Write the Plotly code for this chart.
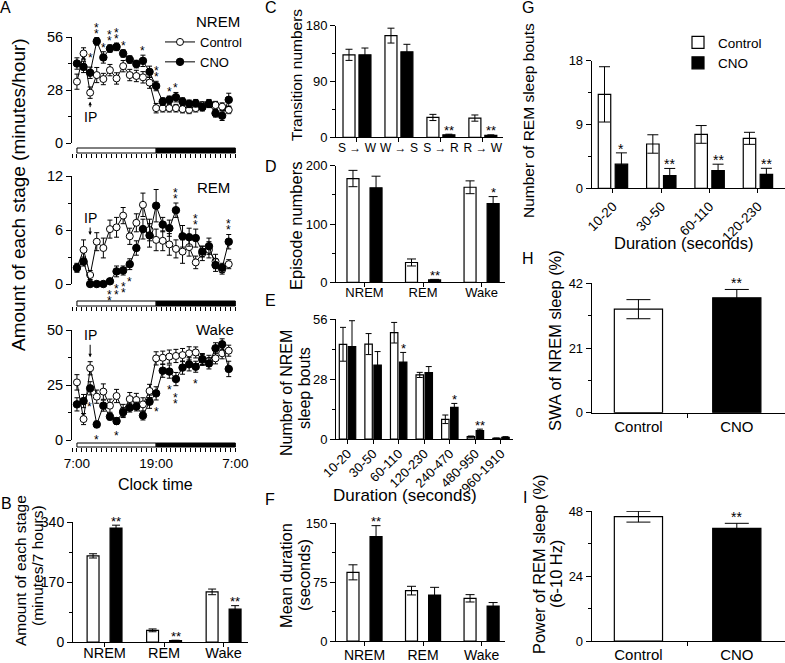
import plotly.graph_objects as go

W, H = 785, 663
FONT = "Liberation Sans, Arial, Helvetica, sans-serif"


def fx(px):
    return px / W


def fy(py):
    return 1 - py / H


# ---------------- data ----------------
hours = list(range(24))
clock_tickvals = [0, 12, 24]
clock_ticktext = ["7:00", "19:00", "7:00"]
light_period = [0, 12]
dark_period = [12, 24]
ip_hour = 2

nrem_ctrl = [32.4, 47.3, 26.6, 35.9, 33.8, 38.5, 34.1, 40.6, 35.9, 35.4, 34.7, 31.9,
             18.4, 18.4, 18.4, 18.4, 17.9, 17.5, 18.4, 19.8, 21.0, 20.0, 19.2, 17.5]
nrem_ctrl_err = [4, 3, 3, 4, 3, 3, 3, 3, 3, 3, 3, 3, 2.5, 2, 2, 2, 2, 2, 2, 2, 2, 2, 2, 2]
nrem_cno = [42.0, 40.2, 37.1, 53.7, 45.2, 49.9, 50.8, 47.3, 44.1, 41.7, 43.4, 37.6,
            30.1, 21.9, 22.8, 24.2, 21.9, 20.7, 21.0, 18.9, 20.7, 15.7, 14.4, 22.8]
nrem_cno_err = [3, 3, 3, 2, 3, 2, 2, 2, 2, 2, 3, 3, 2.5, 2, 2, 2.5, 2, 2, 2, 2, 2, 2, 2.5, 3.5]

rem_ctrl = [1.8, 3.8, 1.0, 4.7, 4.0, 6.1, 6.3, 7.6, 5.3, 6.8, 8.8, 6.0,
            4.9, 4.8, 4.4, 3.9, 3.6, 4.1, 2.4, 3.4, 3.8, 2.5, 1.6, 2.2]
rem_ctrl_err = [0.5, 1.1, 0.5, 1.0, 1.1, 1.0, 1.1, 0.9, 0.9, 1.0, 1.3, 1.2,
                1.2, 1.1, 1.2, 1.0, 1.3, 1.0, 0.7, 0.8, 0.9, 0.8, 0.5, 0.5]
rem_cno = [1.8, 2.5, 0.0, 0.0, 0.0, 0.3, 1.4, 1.5, 2.2, 4.0, 6.1, 5.4,
           8.7, 6.6, 6.2, 8.2, 5.3, 5.2, 5.1, 3.6, 4.2, 2.1, 1.8, 4.7]
rem_cno_err = [0.4, 0.5, 0.1, 0.1, 0.1, 0.2, 0.6, 0.5, 0.6, 0.8, 1.1, 1.3,
               1.8, 0.8, 0.9, 0.8, 1.2, 1.0, 1.0, 0.6, 0.9, 0.7, 0.5, 0.8]

wake_ctrl = [26.2, 9.5, 32.6, 19.7, 22.0, 15.6, 20.0, 13.2, 18.6, 18.2, 16.2, 22.3,
             37.1, 37.4, 37.9, 38.2, 38.6, 39.4, 39.8, 36.4, 36.0, 37.1, 39.4, 40.6]
wake_ctrl_err = [3.5, 2.5, 3, 3, 3.5, 3, 3, 3, 3, 3, 3, 3, 3, 3, 3, 3, 3, 3, 2.5, 2.5, 2.5, 2.5, 2.5, 2.5]
wake_cno = [16.2, 17.7, 23.5, 7.1, 15.6, 10.6, 8.6, 12.6, 14.7, 15.2, 11.1, 17.4,
            21.2, 31.5, 31.1, 27.7, 32.9, 34.4, 33.3, 36.8, 34.8, 41.7, 43.5, 32.3]
wake_cno_err = [3, 3, 3, 1.5, 2.5, 1.5, 1.5, 2, 2, 2, 2, 3, 3, 3, 3, 3, 3, 3, 2.5, 2.5, 2.5, 2.5, 2.5, 3.5]

# significance marks in panel A: hour -> number of stars
nrem_stars_above = {3: 2, 4: 1, 5: 2, 6: 2, 7: 1, 10: 1, 12: 2, 14: 1, 15: 1}
rem_stars_below = {2: 1, 3: 2, 4: 2, 5: 2, 6: 2, 7: 2, 8: 1}
rem_stars_above = {15: 2, 18: 2, 23: 2}
wake_stars_below = {3: 1, 6: 1, 12: 1, 14: 1, 15: 2, 18: 1}

stage_cats = ["NREM", "REM", "Wake"]
b_ctrl = [244, 33, 142]
b_ctrl_err = [6, 4, 8]
b_cno = [323, 4, 93]
b_cno_err = [8, 1, 10]
b_stars = ["**", "**", "**"]

trans_cats = ["S \u2192 W", "W \u2192 S", "S \u2192 R", "R \u2192 W"]
c_ctrl = [133, 164, 32, 31]
c_ctrl_err = [9, 12, 5, 5]
c_cno = [133, 138, 4, 3]
c_cno_err = [11, 12, 1, 1]
c_stars = ["", "", "**", "**"]

d_ctrl = [178, 34, 163]
d_ctrl_err = [14, 6, 11]
d_cno = [162, 4, 135]
d_cno_err = [20, 1, 12]
d_stars = ["", "**", "*"]

nrem_bins = ["10-20", "30-50", "60-110", "120-230", "240-470", "480-950", "960-1910"]
e_ctrl = [44.2, 44.3, 49.6, 29.9, 9.2, 1.1, 0.3]
e_ctrl_err = [7.9, 4.9, 4.8, 1.2, 2.0, 0.3, 0.2]
e_cno = [43.1, 34.5, 35.9, 31.0, 14.8, 3.9, 0.8]
e_cno_err = [12.1, 6.3, 4.5, 2.8, 1.8, 0.7, 0.3]
e_stars = ["", "", "*", "", "*", "**", ""]

f_ctrl = [87.5, 64.2, 54.4]
f_ctrl_err = [9.6, 5.5, 4.7]
f_cno = [133, 58.6, 44.5]
f_cno_err = [14, 9.8, 4.5]
f_stars = ["**", "", ""]

rem_bins = ["10-20", "30-50", "60-110", "120-230"]
g_ctrl = [13.25, 6.25, 7.6, 7.05]
g_ctrl_err = [3.9, 1.3, 1.25, 0.85]
g_cno = [3.4, 1.8, 2.5, 1.97]
g_cno_err = [1.6, 1.0, 0.9, 0.85]
g_stars = ["*", "**", "**", "**"]

groups = ["Control", "CNO"]
h_vals = [33.6, 37.3]
h_err = [3.1, 2.7]
i_vals = [45.9, 41.6]
i_err = [2.0, 1.85]

# ---------------- figure ----------------
fig = go.Figure()
annotations = []
shapes = []
layout = {}


def txt(x, y, text, size, angle=0, xref="paper", yref="paper", xshift=0, yshift=0,
        xanchor="center", yanchor="middle"):
    annotations.append(dict(
        x=x, y=y, xref=xref, yref=yref, text=text, showarrow=False, textangle=angle,
        font=dict(family=FONT, size=size, color="black"), xshift=xshift, yshift=yshift,
        xanchor=xanchor, yanchor=yanchor))


def yaxis_style(top, bottom, rng, dtick, anchor, size):
    return dict(
        domain=[fy(bottom), fy(top)], range=rng, anchor=anchor, automargin=False,
        tickmode="linear", tick0=0, dtick=dtick,
        showline=True, linecolor="black", linewidth=1,
        ticks="outside", ticklen=5, tickwidth=1, tickcolor="black",
        minor=dict(dtick=dtick / 2, ticks="outside", ticklen=3, tickwidth=1,
                   tickcolor="black", showgrid=False),
        showgrid=False, zeroline=False, fixedrange=True,
        tickfont=dict(family=FONT, size=size, color="black"))


# ---- panel A: three time-course plots ----
a_panels = [
    (1, nrem_ctrl, nrem_ctrl_err, nrem_cno, nrem_cno_err, 37, 143, [0, 56], 28, 148, 153),
    (2, rem_ctrl, rem_ctrl_err, rem_cno, rem_cno_err, 176, 284, [0, 12], 6, 301, 306),
    (3, wake_ctrl, wake_ctrl_err, wake_cno, wake_cno_err, 330, 440, [0, 50], 25, 443, 447),
]
for n, ctrl, cerr, cno, nerr, top, bot, rng, dt, bar_top, bar_bot in a_panels:
    xa = "x" if n == 1 else f"x{n}"
    ya = "y" if n == 1 else f"y{n}"
    fig.add_trace(go.Scatter(
        x=hours, y=ctrl, xaxis=xa, yaxis=ya, mode="lines+markers", name="Control",
        line=dict(color="black", width=1),
        marker=dict(symbol="circle", size=7, color="white", line=dict(color="black", width=1)),
        error_y=dict(type="data", array=cerr, color="black", thickness=1, width=2.5),
        cliponaxis=False, showlegend=(n == 1), legend="legend"))
    fig.add_trace(go.Scatter(
        x=hours, y=cno, xaxis=xa, yaxis=ya, mode="lines+markers", name="CNO",
        line=dict(color="black", width=1),
        marker=dict(symbol="circle", size=7.5, color="black", line=dict(color="black", width=1)),
        error_y=dict(type="data", array=nerr, color="black", thickness=1, width=2.5),
        cliponaxis=False, showlegend=(n == 1), legend="legend"))
    key = "xaxis" if n == 1 else f"xaxis{n}"
    layout[key] = dict(
        domain=[fx(72), fx(236)], range=[-0.75, 24.1], anchor="free", position=fy(bar_bot),
        automargin=False,
        showline=False, tickmode="array", tickvals=clock_tickvals, ticktext=clock_ticktext,
        showticklabels=(n == 3), ticks="outside", ticklen=4, tickwidth=1, tickcolor="black",
        minor=dict(dtick=0.75, tick0=0, ticks="outside", ticklen=4, tickwidth=1,
                   tickcolor="black", showgrid=False),
        showgrid=False, zeroline=False, fixedrange=True,
        tickfont=dict(family=FONT, size=13.5, color="black"))
    ykey = "yaxis" if n == 1 else f"yaxis{n}"
    layout[ykey] = yaxis_style(top, bot, rng, dt, xa, 14.5)
    # light / dark bar
    shapes.append(dict(type="rect", xref=xa, yref="paper", x0=light_period[0], x1=light_period[1],
                       y0=fy(bar_bot), y1=fy(bar_top), fillcolor="white",
                       line=dict(color="black", width=1)))
    shapes.append(dict(type="rect", xref=xa, yref="paper", x0=dark_period[0], x1=dark_period[1],
                       y0=fy(bar_bot), y1=fy(bar_top), fillcolor="black",
                       line=dict(color="black", width=1)))


def a_stars(n, vals, errs, spec, above):
    xa = "x" if n == 1 else f"x{n}"
    ya = "y" if n == 1 else f"y{n}"
    for h, cnt in spec.items():
        for k in range(cnt):
            if above:
                y, ys = vals[h] + errs[h], 4 + 6 * k
            else:
                y, ys = vals[h] - errs[h], -12 - 6 * k
            txt(h, y, "*", 12, xref=xa, yref=ya, yshift=ys)


a_stars(1, nrem_cno, nrem_cno_err, nrem_stars_above, True)
a_stars(2, rem_cno, rem_cno_err, rem_stars_below, False)
a_stars(2, rem_cno, rem_cno_err, rem_stars_above, True)
a_stars(3, wake_cno, wake_cno_err, wake_stars_below, False)
txt(1, nrem_ctrl[1], "*", 12, xref="x", yref="y", xshift=7, yshift=-5)
txt(1, wake_cno[1], "*", 12, xref="x3", yref="y3", xshift=6, yshift=-6)

# IP arrows
for xa, ya, yv, ay, so in [("x", "y", nrem_ctrl[ip_hour], 24, 9),
                           ("x2", "y2", rem_ctrl[ip_hour], -57, 40),
                           ("x3", "y3", wake_ctrl[ip_hour], -33, 11)]:
    annotations.append(dict(x=ip_hour, y=yv, xref=xa, yref=ya, text="IP", showarrow=True,
                            ax=0, ay=ay, arrowhead=2, arrowsize=0.7, arrowwidth=1,
                            arrowcolor="black", standoff=so,
                            font=dict(family=FONT, size=14, color="black")))

txt(fx(218), fy(21), "NREM", 15)
txt(fx(213), fy(187), "REM", 15)
txt(fx(215), fy(329), "Wake", 15)
txt(fx(155), fy(485), "Clock time", 16)
txt(fx(18), fy(195), "Amount of each stage (minutes/hour)", 19, angle=-90)


# ---- bar panels ----
def cat_xaxis(n, left, right, rng, size, tickangle=0, tickson="labels", standoff=0):
    return dict(domain=[fx(left), fx(right)], range=rng, anchor=f"y{n}", type="category",
                automargin=False, ticklabelstandoff=standoff,
                showline=True, linecolor="black", linewidth=1, ticks="outside", ticklen=4,
                tickwidth=1, tickcolor="black", tickangle=tickangle, tickson=tickson,
                showgrid=False, zeroline=False, fixedrange=True,
                tickfont=dict(family=FONT, size=size, color="black"))


def add_pair(n, cats, ctrl, cerr, cno, nerr, width, half_sep, cap, stars, star_size=13,
             legend=None):
    common = dict(xaxis=f"x{n}", yaxis=f"y{n}", width=width)
    fig.add_trace(go.Bar(x=cats, y=ctrl, offset=-half_sep - width / 2, name="Control",
                         marker=dict(color="white", line=dict(color="black", width=1.2)),
                         error_y=dict(type="data", array=cerr, color="black", thickness=1, width=cap),
                         showlegend=legend is not None, legend=legend or "legend", **common))
    fig.add_trace(go.Bar(x=cats, y=cno, offset=half_sep - width / 2, name="CNO",
                         marker=dict(color="black", line=dict(color="black", width=1.2)),
                         error_y=dict(type="data", array=nerr, color="black", thickness=1, width=cap),
                         showlegend=legend is not None, legend=legend or "legend", **common))
    for i, s in enumerate(stars):
        if s:
            txt(i + half_sep, cno[i] + nerr[i], s, star_size, xref=f"x{n}", yref=f"y{n}", yshift=4)


# B
add_pair(4, stage_cats, b_ctrl, b_ctrl_err, b_cno, b_cno_err, 0.2, 0.193, 4, b_stars)
layout["xaxis4"] = cat_xaxis(4, 73, 248, [-0.53, 2.41], 14.5, standoff=-6)
layout["yaxis4"] = yaxis_style(522, 642, [0, 340], 170, "x4", 14)
# C
add_pair(5, trans_cats, c_ctrl, c_ctrl_err, c_cno, c_cno_err, 0.286, 0.19, 3.5, c_stars)
layout["xaxis5"] = cat_xaxis(5, 336, 503, [-0.5, 3.48], 12, standoff=-5)
layout["yaxis5"] = yaxis_style(25.7, 137.3, [0, 180], 90, "x5", 13)
# D
add_pair(6, stage_cats, d_ctrl, d_ctrl_err, d_cno, d_cno_err, 0.205, 0.197, 4.5, d_stars)
layout["xaxis6"] = cat_xaxis(6, 336, 505, [-0.487, 2.4], 13, standoff=-6)
layout["yaxis6"] = yaxis_style(165.7, 282.3, [0, 200], 100, "x6", 13)
# E
add_pair(7, nrem_bins, e_ctrl, e_ctrl_err, e_cno, e_cno_err, 0.29, 0.176, 3, e_stars)
layout["xaxis7"] = cat_xaxis(7, 336, 513, [-0.45, 6.47], 13, tickangle=-45, standoff=-3)
layout["yaxis7"] = yaxis_style(319, 439, [0, 56], 28, "x7", 13)
# F
add_pair(8, stage_cats, f_ctrl, f_ctrl_err, f_cno, f_cno_err, 0.205, 0.197, 4.5, f_stars)
layout["xaxis8"] = cat_xaxis(8, 336, 505, [-0.487, 2.4], 14, standoff=-3)
layout["yaxis8"] = yaxis_style(523.3, 641, [0, 150], 75, "x8", 13)
# G
add_pair(9, rem_bins, g_ctrl, g_ctrl_err, g_cno, g_cno_err, 0.258, 0.175, 5.5, g_stars,
         star_size=14, legend="legend2")
layout["xaxis9"] = cat_xaxis(9, 591.7, 785, [-0.44, 3.56], 13.5, tickangle=-45)
layout["yaxis9"] = yaxis_style(60.7, 188.3, [0, 18], 9, "x9", 13)


# H and I
def add_two(n, vals, errs):
    fig.add_trace(go.Bar(x=[groups[0]], y=[vals[0]], xaxis=f"x{n}", yaxis=f"y{n}", width=0.49,
                         offset=-0.245, marker=dict(color="white", line=dict(color="black", width=1.2)),
                         error_y=dict(type="data", array=[errs[0]], color="black", thickness=1, width=12),
                         showlegend=False))
    fig.add_trace(go.Bar(x=[groups[1]], y=[vals[1]], xaxis=f"x{n}", yaxis=f"y{n}", width=0.49,
                         offset=-0.245, marker=dict(color="black", line=dict(color="black", width=1.2)),
                         error_y=dict(type="data", array=[errs[1]], color="black", thickness=1, width=12),
                         showlegend=False))
    txt(1, vals[1] + errs[1], "**", 14, xref=f"x{n}", yref=f"y{n}", yshift=6)


add_two(10, h_vals, h_err)
layout["xaxis10"] = cat_xaxis(10, 591.7, 785, [-0.475, 1.49], 15, tickson="boundaries")
layout["yaxis10"] = yaxis_style(283.3, 412.7, [0, 42], 21, "x10", 13)
add_two(11, i_vals, i_err)
layout["xaxis11"] = cat_xaxis(11, 591.7, 785, [-0.475, 1.49], 15, tickson="boundaries")
layout["yaxis11"] = yaxis_style(511, 641, [0, 48], 24, "x11", 13)

# axis titles
txt(fx(20), fy(571), "Amount of each stage", 15.5, angle=-90)
txt(fx(37), fy(566), "(minutes/7 hours)", 15.5, angle=-90)
txt(fx(296), fy(75), "Transition numbers", 15.5, angle=-90)
txt(fx(296), fy(226), "Episode numbers", 16.5, angle=-90)
txt(fx(286), fy(393), "Number of NREM", 16, angle=-90)
txt(fx(304), fy(388), "sleep bouts", 16, angle=-90)
txt(fx(405), fy(495), "Duration (seconds)", 17)
txt(fx(286), fy(576), "Mean duration", 16.4, angle=-90)
txt(fx(304), fy(575), "(seconds)", 16.4, angle=-90)
txt(fx(528), fy(121), "Number of REM sleep bouts", 15.5, angle=-90)
txt(fx(683), fy(243), "Duration (seconds)", 16.5)
txt(fx(555), fy(341), "SWA of NREM sleep (%)", 16.4, angle=-90)
txt(fx(539), fy(565), "Power of REM sleep (%)", 16.4, angle=-90)
txt(fx(556), fy(574), "(6-10 Hz)", 16.4, angle=-90)

# panel letters
for letter, px, py in [("A", 5, 8), ("B", 6, 503), ("C", 271, 8), ("D", 271, 166),
                       ("E", 270, 301), ("F", 270, 499), ("G", 528, 8), ("H", 528, 259),
                       ("I", 525, 497)]:
    txt(fx(px), fy(py), letter, 16)

fig.update_layout(
    template="none",
    width=W, height=H, margin=dict(l=0, r=0, t=0, b=0, autoexpand=False),
    paper_bgcolor="white", plot_bgcolor="white",
    barmode="overlay",
    font=dict(family=FONT, color="black"),
    annotations=annotations, shapes=shapes,
    legend=dict(x=fx(160), y=fy(27), xanchor="left", yanchor="top", bgcolor="rgba(0,0,0,0)",
                font=dict(family=FONT, size=13, color="black"), itemwidth=30,
                tracegroupgap=0, traceorder="normal"),
    legend2=dict(x=fx(678), y=fy(27), xanchor="left", yanchor="top", bgcolor="rgba(0,0,0,0)",
                 font=dict(family=FONT, size=13.5, color="black"), itemwidth=30,
                 tracegroupgap=0, traceorder="normal"),
    **layout,
)

fig.write_html("out.html", config={"displayModeBar": False},
               post_script="document.body.style.margin='0';document.body.style.overflow='hidden';")
